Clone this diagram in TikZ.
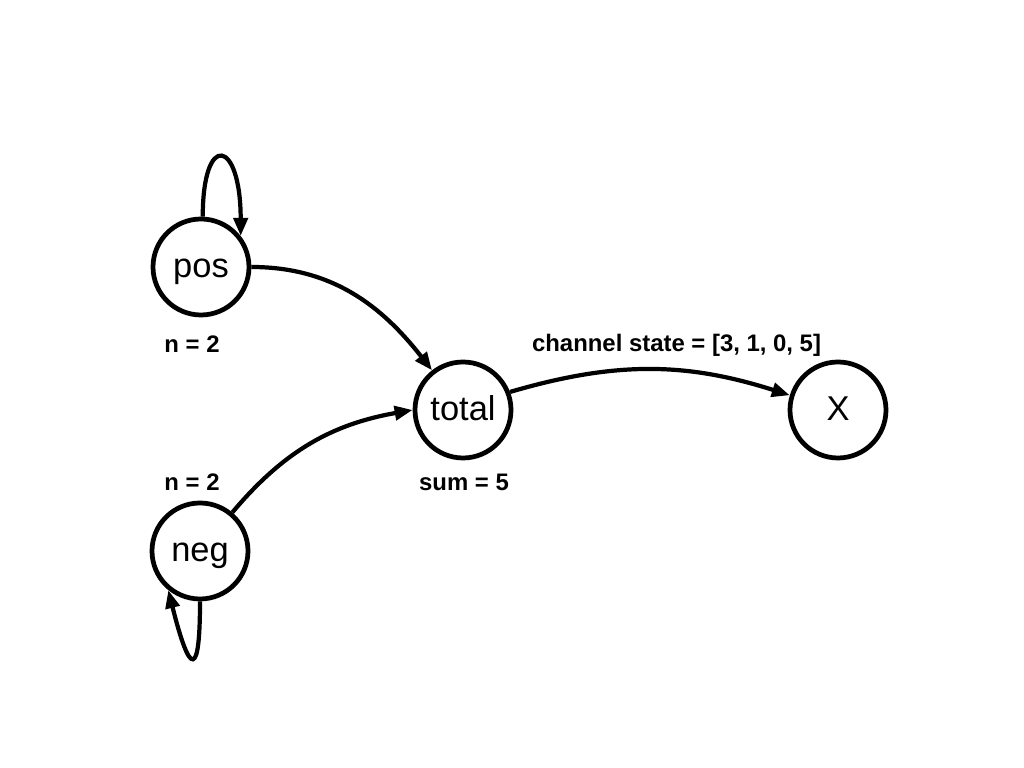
\documentclass[tikz,border=0pt]{standalone}
\usepackage{fontspec}
\setmainfont{Liberation Sans}
\usepackage{tikz}
\usetikzlibrary{arrows.meta,positioning}

\begin{document}
\begin{tikzpicture}[
  state/.style={draw,circle,line width=1.35pt,minimum size=0.96cm,inner sep=0pt,text height=0.62em,text depth=0pt,font=\fontsize{9.8}{12}\selectfont},
  lbl/.style={inner sep=1pt,font=\bfseries\fontsize{6.8}{8}\selectfont},
  arrow/.style={-{Triangle[length=1.8mm,width=1.4mm]},line width=1.2pt},
]
\useasboundingbox (0,0) rectangle (10.24,7.68);

\node[state] (pos) at (2.01,5.01) {pos};
\node[state] (total) at (4.63,3.58) {total};
\node[state] (x) at (8.38,3.58) {X};
\node[state] (neg) at (2.00,2.17) {neg};

\node[lbl] (posn) at (1.92,4.24) {n = 2};
\node[lbl] (negn) at (1.92,2.86) {n = 2};
\node[lbl] (totalsum) at (4.64,2.86) {sum = 5};

\draw[arrow] (pos.88) .. controls +(0,0.86) and +(0,0.97) .. (pos.38);
\draw[arrow] (neg.270) .. controls +(0,-0.76) and +(0.22,-0.88) .. (neg.231);
\draw[arrow] (pos.east) to[out=0,in=128] (total.128);
\draw[arrow] (neg.50) to[out=50,in=190] (total.180);
\draw[arrow] (total.21) to[bend left=17] node[lbl,above=2.5pt,pos=0.6] (chan) {channel state = [3, 1, 0, 5]} (x.163);
\end{tikzpicture}
\end{document}
